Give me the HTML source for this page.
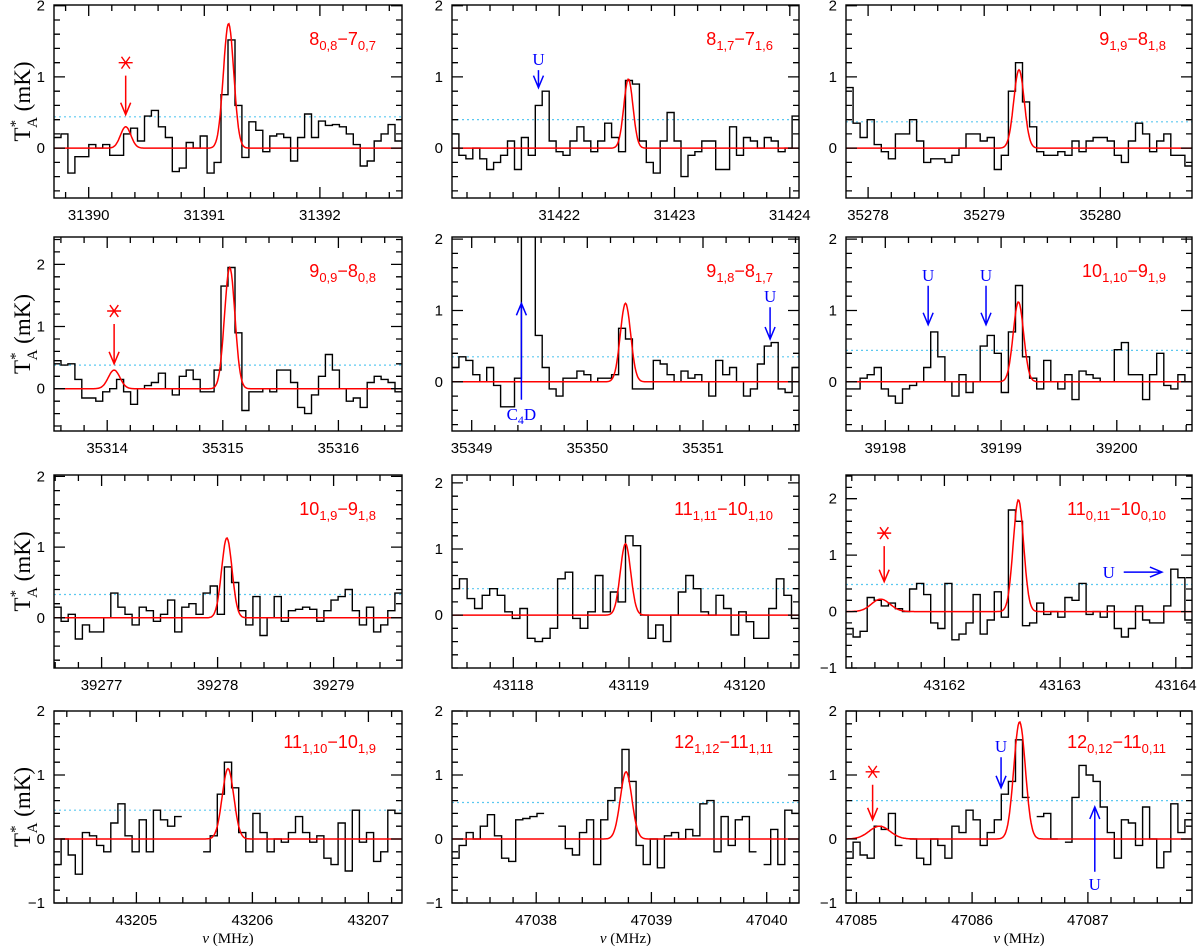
<!DOCTYPE html>
<html><head><meta charset="utf-8"><style>
html,body{margin:0;padding:0;background:#fff}
svg{display:block}
text{font-family:"Liberation Sans",sans-serif}
text.serif{font-family:"Liberation Serif",serif}
</style></head><body>
<svg id="fig" width="1200" height="950" viewBox="0 0 1200 950" xmlns="http://www.w3.org/2000/svg"></svg>
<script>
// ---- data: channel intensities (mK) per panel ----
const vals_p1=[0.15,0.2,-0.35,-0.12,-0.12,0.05,0.0,0.05,-0.1,-0.1,0.2,0.28,0.1,0.45,0.53,0.3,0.15,-0.33,-0.28,0.08,0.0,0.17,-0.35,-0.2,0.75,1.52,0.6,-0.13,0.37,0.25,-0.05,0.17,0.2,0.15,-0.18,0.15,0.48,0.15,0.38,0.32,0.33,0.3,0.2,0.05,-0.25,-0.18,0.1,0.2,0.33,0.1];
const vals_p2=[0.2,-0.1,-0.15,0.0,-0.15,-0.3,-0.2,-0.1,0.1,-0.3,0.15,-0.1,0.6,0.8,0.1,-0.05,-0.1,0.1,0.3,0.1,-0.05,0.1,0.35,0.15,-0.05,0.95,0.9,0.1,-0.2,-0.35,0.1,0.5,0.1,-0.4,-0.1,-0.05,0.1,0.1,-0.3,-0.3,0.3,-0.1,0.15,0.1,0.0,0.15,0.1,-0.05,0.0,0.45];
const vals_p3=[0.85,0.35,0.15,0.4,0.05,-0.05,-0.15,0.2,0.2,0.4,0.1,-0.2,-0.15,-0.15,-0.2,-0.1,0.0,0.2,0.2,0.1,0.15,-0.3,-0.1,0.8,1.2,0.65,0.3,-0.05,-0.1,-0.1,-0.05,-0.1,0.1,-0.05,0.1,0.15,0.15,0.1,-0.1,-0.2,0.1,0.35,0.2,-0.05,0.1,0.2,-0.1,-0.1,-0.25];
const vals_p4=[0.45,0.38,0.4,0.15,-0.15,-0.15,-0.2,-0.05,0.0,0.15,-0.05,-0.25,0.0,0.05,0.1,0.25,0.0,-0.1,0.2,0.3,0.15,-0.05,-0.05,0.3,1.65,1.95,0.9,-0.35,-0.05,-0.05,0.0,-0.05,0.3,0.3,0.1,-0.3,-0.4,-0.1,0.2,0.55,0.3,0.0,-0.2,-0.15,-0.3,0.1,0.2,0.15,0.1,-0.05];
const vals_p5=[0.2,0.35,0.3,0.1,0.0,0.2,-0.05,-0.35,-0.35,0.05,5,5,0.65,0.2,-0.1,-0.2,0.05,0.05,0.15,0.1,0.0,0.05,0.05,0.1,0.75,0.6,-0.1,-0.1,-0.1,0.3,0.25,0.1,0.0,0.15,0.05,0.1,0.0,-0.2,0.3,0.1,0.2,0.0,-0.2,-0.1,0.25,0.5,0.55,-0.1,-0.15,0.2];
const vals_p6=[-0.1,-0.1,0.05,0.1,0.2,-0.1,-0.2,-0.3,-0.1,-0.05,0.0,0.2,0.7,0.35,0.0,-0.2,0.1,-0.15,0.0,0.5,0.65,0.4,-0.15,0.7,1.35,0.35,0.05,-0.1,0.3,0.0,-0.1,0.1,-0.25,0.15,0.1,0.05,0.0,0.0,0.45,0.55,0.1,0.1,-0.25,0.1,0.4,-0.05,-0.1,0.1,0.0];
const vals_p7=[0.15,-0.05,0.05,-0.3,-0.1,-0.2,-0.2,0.0,0.35,0.15,0.05,-0.1,0.15,0.1,-0.05,0.05,0.25,-0.2,0.15,0.2,0.05,0.35,0.45,0.05,0.72,0.5,0.1,-0.1,0.3,-0.25,0.0,0.3,-0.05,0.1,0.12,0.15,0.12,-0.05,0.1,0.25,0.3,0.4,0.1,-0.1,0.15,-0.2,-0.1,0.1,0.35];
const vals_p8=[0.4,0.55,0.25,0.1,0.3,0.4,0.3,0.05,-0.05,0.1,-0.35,-0.4,-0.35,-0.2,0.55,0.65,-0.05,-0.2,0.05,0.6,0.05,0.35,0.2,1.2,1.05,0.0,-0.35,-0.15,-0.4,0.0,0.35,0.6,0.4,0.05,0.0,0.3,0.1,-0.3,0.05,-0.1,-0.35,-0.35,0.1,0.55,0.3,-0.05];
const vals_p9=[-0.3,-0.45,-0.35,0.25,0.2,0.1,0.15,0.05,0.0,0.4,0.5,0.3,-0.2,-0.3,0.5,-0.5,-0.4,-0.2,0.3,-0.4,-0.15,0.35,-0.1,1.8,1.6,-0.25,-0.2,0.15,-0.05,0.0,-0.1,0.25,0.2,0.5,-0.05,0.0,-0.1,0.1,-0.3,-0.45,-0.3,0.1,-0.15,-0.2,-0.2,0.1,0.75,0.6,-0.15];
const vals_p10=[-0.4,0.0,-0.25,-0.55,0.1,0.05,-0.1,-0.2,0.25,0.55,0.05,-0.2,0.3,-0.2,0.45,0.3,0.2,0.35,null,null,null,-0.2,0.05,0.7,1.2,0.8,0.1,-0.2,0.4,0.1,-0.2,0.0,-0.05,0.1,0.35,0.1,-0.05,0.05,-0.3,-0.4,0.25,-0.5,0.45,-0.05,0.1,-0.35,-0.2,0.45,0.4];
const vals_p11=[-0.3,-0.1,0.1,0.0,0.2,0.38,0.05,-0.3,-0.35,0.3,0.32,0.35,0.4,null,null,0.2,-0.15,-0.25,0.1,0.3,-0.4,0.3,0.6,0.8,1.4,0.9,-0.1,-0.4,0.0,-0.45,0.05,0.1,0.0,0.15,0.05,0.55,0.6,-0.2,0.35,-0.1,0.3,0.35,-0.2,null,-0.4,0.15,-0.4,0.45,0.4];
const vals_p12=[-0.3,-0.05,-0.25,-0.3,0.2,0.15,0.4,-0.1,null,0.0,-0.3,-0.4,0.0,-0.1,-0.3,0.2,0.1,0.45,0.3,-0.1,0.1,0.3,0.7,0.9,1.55,0.65,null,0.35,0.4,0.0,null,-0.05,0.65,1.15,1.0,0.9,0.5,0.1,-0.3,0.3,0.25,-0.1,0.5,0.0,-0.45,-0.2,0.55,0.1,0.3];
// ---- gaussian fits [center MHz, amplitude, sigma] ----
const fits_p1=[[31391.21,1.75,0.045],[31390.32,0.3,0.045]];
const fits_p2=[[31422.6,0.97,0.04]];
const fits_p3=[[35279.3,1.1,0.045]];
const fits_p4=[[35315.06,1.95,0.045],[35314.06,0.3,0.05]];
const fits_p5=[[35350.33,1.1,0.045]];
const fits_p6=[[39199.15,1.12,0.045]];
const fits_p7=[[39278.08,1.13,0.045]];
const fits_p8=[[43118.97,1.08,0.045]];
const fits_p9=[[43162.64,1.98,0.045],[43161.45,0.22,0.08]];
const fits_p10=[[43205.79,1.1,0.05]];
const fits_p11=[[47038.78,1.05,0.05]];
const fits_p12=[[47086.41,1.83,0.05],[47085.2,0.2,0.09]];
// ---- rms levels (mK) ----
const rms=[0.44,0.4,0.37,0.38,0.35,0.44,0.33,0.4,0.48,0.45,0.57,0.6];
// ---- transition labels ----
const labels=[["8","0,8","7","0,7"],["8","1,7","7","1,6"],["9","1,9","8","1,8"],["9","0,9","8","0,8"],["9","1,8","8","1,7"],["10","1,10","9","1,9"],["10","1,9","9","1,8"],["11","1,11","10","1,10"],["11","0,11","10","0,10"],["11","1,10","10","1,9"],["12","1,12","11","1,11"],["12","0,12","11","0,11"]];
// ---- frequency / intensity ranges ----
const xmins=[31389.7,31421.07,35277.81,35313.54,35348.83,39197.66,39276.59,43117.47,43161.15,43204.29,47037.27,47084.91];
const xmaxs=[31392.71,31424.08,35280.79,35316.55,35351.83,39200.65,39279.59,43120.47,43164.14,43207.29,47040.28,47087.9];
const ymins=[-0.7,-0.7,-0.7,-0.68,-0.69,-0.69,-0.71,-0.8,-1,-1,-1,-1];
const ymaxs=[2.01,2.01,2.01,2.44,2.03,2.03,2.02,2.12,2.42,2,2,2];
// annotations
const notes_p1=[["star",31390.32,1.2,0.47]];
const notes_p2=[["U",31421.82,1.25,0.85]];
const notes_p4=[["star",35314.06,1.25,0.4]];
const notes_p5=[["C4Dup",35349.43,0.0,1.1],["U",35351.58,1.2,0.6]];
const notes_p6=[["U",39198.37,1.5,0.8],["U",39198.87,1.5,0.8]];
const notes_p9=[["star",43161.48,1.39,0.53],["Uright",43163.55,0.7,43163.88]];
const notes_p12=[["star",47085.14,1.05,0.3],["U",47086.25,1.45,0.8],["Uup",47087.06,-0.7,0.5]];

const allVals=[vals_p1,vals_p2,vals_p3,vals_p4,vals_p5,vals_p6,vals_p7,vals_p8,vals_p9,vals_p10,vals_p11,vals_p12];
const allFits=[fits_p1,fits_p2,fits_p3,fits_p4,fits_p5,fits_p6,fits_p7,fits_p8,fits_p9,fits_p10,fits_p11,fits_p12];
const allNotes=[notes_p1,notes_p2,[],notes_p4,notes_p5,notes_p6,[],[],notes_p9,[],[],notes_p12];

const colL=[54,452,846], colR=[402,799,1192];
const rowT=[5,237,475,711], rowB=[198,431,668,903];
const NS="http://www.w3.org/2000/svg";
const svg=document.getElementById('fig');
function mk(tag,attrs,parent){const e=document.createElementNS(NS,tag);for(const k in attrs)e.setAttribute(k,attrs[k]);(parent||svg).appendChild(e);return e;}

const defs=mk('defs',{});
for(let p=0;p<12;p++){
  const r=Math.floor(p/3),c=p%3;
  const L=colL[c],R=colR[c],T=rowT[r],B=rowB[r];
  const xmin=xmins[p],xmax=xmaxs[p],ymin=ymins[p],ymax=ymaxs[p];
  const X=v=>L+(v-xmin)/(xmax-xmin)*(R-L);
  const Y=v=>B-(v-ymin)/(ymax-ymin)*(B-T);
  const g=mk('g',{});
  
  
  const cp=mk('clipPath',{id:'cp'+p},defs);
  mk('rect',{x:L,y:T,width:R-L,height:B-T},cp);
  const rl=mk('line',{x1:L,x2:R,y1:Y(rms[p]),y2:Y(rms[p]),stroke:'#5bc8f0','stroke-width':1.2,'stroke-dasharray':'2,3'},g);
  
  
  const vals=allVals[p],n=vals.length,step=(xmax-xmin)/n;
  let d='',prev=null;
  for(let i=0;i<n;i++){
    const v=vals[i];
    if(v===null){prev=null;continue;}
    const x0=X(xmin+i*step),x1=X(xmin+(i+1)*step),y=Y(v);
    d+=(prev===null?'M':'L')+x0.toFixed(1)+','+y.toFixed(1);
    d+='L'+x1.toFixed(1)+','+y.toFixed(1);
    prev=v;
  }
  const hp=mk('path',{d:d,fill:'none',stroke:'#000','stroke-width':1.4,'clip-path':'url(#cp'+p+')'},g);
  
  
  let fd='';
  for(let k=0;k<=400;k++){
    const f=xmin+k*(xmax-xmin)/400;let s=0;
    for(const [c0,a,sg] of allFits[p])s+=a*Math.exp(-0.5*((f-c0)/sg)**2);
    fd+=(k?'L':'M')+X(f).toFixed(1)+','+Y(s).toFixed(1);
  }
  const fp=mk('path',{d:fd,fill:'none',stroke:'#ff0000','stroke-width':1.5,'clip-path':'url(#cp'+p+')'},g);
  
  
  const fr=mk('rect',{x:L,y:T,width:R-L,height:B-T,fill:'none',stroke:'#000','stroke-width':1.4},g);
  
  
  let tk='';
  for(let t=Math.ceil(xmin*5);t<=Math.floor(xmax*5);t++){
    const f=t/5,x=X(f),len=(t%5===0)?11:6;
    tk+='M'+x.toFixed(1)+','+B+'v'+(-len)+'M'+x.toFixed(1)+','+T+'v'+len;
    if(t%5===0){
      const tl=mk('text',{x:x,y:B+22,'text-anchor':'middle','font-size':15,fill:'#000'},g);
      tl.textContent=String(f);
      
      
    }
  }
  for(let t=Math.ceil(ymin*5);t<=Math.floor(ymax*5);t++){
    const v=t/5,y=Y(v),len=(t%5===0)?11:6;
    tk+='M'+L+','+y.toFixed(1)+'h'+len+'M'+R+','+y.toFixed(1)+'h'+(-len);
    if(t%5===0){
      const yl=mk('text',{x:L-9,y:y+5,'text-anchor':'end','font-size':15,fill:'#000'},g);
      yl.textContent=(v<0?'\u2212':'')+Math.abs(v);
      
      
    }
  }
  const tp=mk('path',{d:tk,stroke:'#000','stroke-width':1.3,fill:'none'},g);
  
  
  const lb=labels[p];
  const tt=mk('text',{x:R-26,y:T+(r===3?37:40),'text-anchor':'end','font-size':18,fill:'#ff0000'},g);
  
  
  const parts=[[lb[0],0],[lb[1],1],['\u2212'+lb[2],0],[lb[3],1]];
  for(const [s,sub] of parts){
    const ts=mk('tspan',sub?{'font-size':13,dy:5}:{dy:(s===lb[0]?0:-5)},tt);
    ts.textContent=s;
  }
  for(const nt of allNotes[p]){
    const type=nt[0];
    if(type==='star'){
      const x=X(nt[1]),ys=Y(nt[2]),ye=Y(nt[3]);
      const sz=7;
      const st=mk('path',{d:'M'+(x-sz)+','+ys+'h'+(2*sz)+'M'+(x-sz*0.6)+','+(ys-sz*0.85)+'L'+(x+sz*0.6)+','+(ys+sz*0.85)+'M'+(x+sz*0.6)+','+(ys-sz*0.85)+'L'+(x-sz*0.6)+','+(ys+sz*0.85),stroke:'#ff0000','stroke-width':1.4,fill:'none'},g);
      
      
      const ar=mk('path',{d:'M'+x+','+(ys+13)+'L'+x+','+ye+'M'+(x-5)+','+(ye-12)+'L'+x+','+ye+'L'+(x+5)+','+(ye-12),stroke:'#ff0000','stroke-width':1.5,fill:'none'},g);
      
      
    } else if(type==='U'){
      const x=X(nt[1]),ys=Y(nt[2]),ye=Y(nt[3]);
      const ut=mk('text',{x:x,y:ys+6,'text-anchor':'middle','font-size':17,fill:'#0000ff','class':'serif'},g);
      ut.textContent='U';
      
      
      const ar=mk('path',{d:'M'+x+','+(ys+11)+'L'+x+','+ye+'M'+(x-5)+','+(ye-12)+'L'+x+','+ye+'L'+(x+5)+','+(ye-12),stroke:'#0000ff','stroke-width':1.5,fill:'none'},g);
      
      
    } else if(type==='Uup'){
      const x=X(nt[1]),yt=Y(nt[2]),ye=Y(nt[3]);
      const ut=mk('text',{x:x,y:yt+6,'text-anchor':'middle','font-size':17,fill:'#0000ff','class':'serif'},g);
      ut.textContent='U';
      
      
      const ar=mk('path',{d:'M'+x+','+(yt-12)+'L'+x+','+ye+'M'+(x-5)+','+(ye+12)+'L'+x+','+ye+'L'+(x+5)+','+(ye+12),stroke:'#0000ff','stroke-width':1.5,fill:'none'},g);
      
      
    } else if(type==='C4Dup'){
      const x=X(nt[1]),yb=Y(nt[2]),ye=Y(nt[3]);
      const ct=mk('text',{x:x,y:yb+38,'text-anchor':'middle','font-size':17,fill:'#0000ff','class':'serif'},g);
      
      
      const a=mk('tspan',{},ct);a.textContent='C';
      const b=mk('tspan',{'font-size':12,dy:4},ct);b.textContent='4';
      const c2=mk('tspan',{dy:-4},ct);c2.textContent='D';
      const ar=mk('path',{d:'M'+x+','+(yb+18)+'L'+x+','+ye+'M'+(x-5)+','+(ye+12)+'L'+x+','+ye+'L'+(x+5)+','+(ye+12),stroke:'#0000ff','stroke-width':1.5,fill:'none'},g);
      
      
    } else if(type==='Uright'){
      const x0=X(nt[1]),y=Y(nt[2]),x1=X(nt[3]);
      const ut=mk('text',{x:x0-15,y:y+6,'text-anchor':'middle','font-size':17,fill:'#0000ff','class':'serif'},g);
      ut.textContent='U';
      
      
      const ar=mk('path',{d:'M'+x0+','+y+'L'+x1+','+y+'M'+(x1-12)+','+(y-5)+'L'+x1+','+y+'L'+(x1-12)+','+(y+5),stroke:'#0000ff','stroke-width':1.5,fill:'none'},g);
      
      
    }
  }
  if(c===0){
    const cy=(T+B)/2;
    const yt=mk('text',{x:0,y:0,transform:'translate(30,'+cy+') rotate(-90)','text-anchor':'middle','font-size':23,fill:'#000','class':'serif'},g);
    
    
    const a=mk('tspan',{},yt);a.textContent='T';
    const s1=mk('tspan',{'font-size':15,dy:-10},yt);s1.textContent='*';
    const s2=mk('tspan',{'font-size':15,dx:-8,dy:17},yt);s2.textContent='A';
    const s3=mk('tspan',{dy:-7},yt);s3.textContent=' (mK)';
  }
  if(r===3){
    const xt=mk('text',{x:(L+R)/2,y:943,'text-anchor':'middle','font-size':15,fill:'#000','class':'serif'},g);
    
    
    const a=mk('tspan',{'font-style':'italic'},xt);a.textContent='\u03BD';
    const b=mk('tspan',{},xt);b.textContent=' (MHz)';
  }
}
</script>
</body></html>
